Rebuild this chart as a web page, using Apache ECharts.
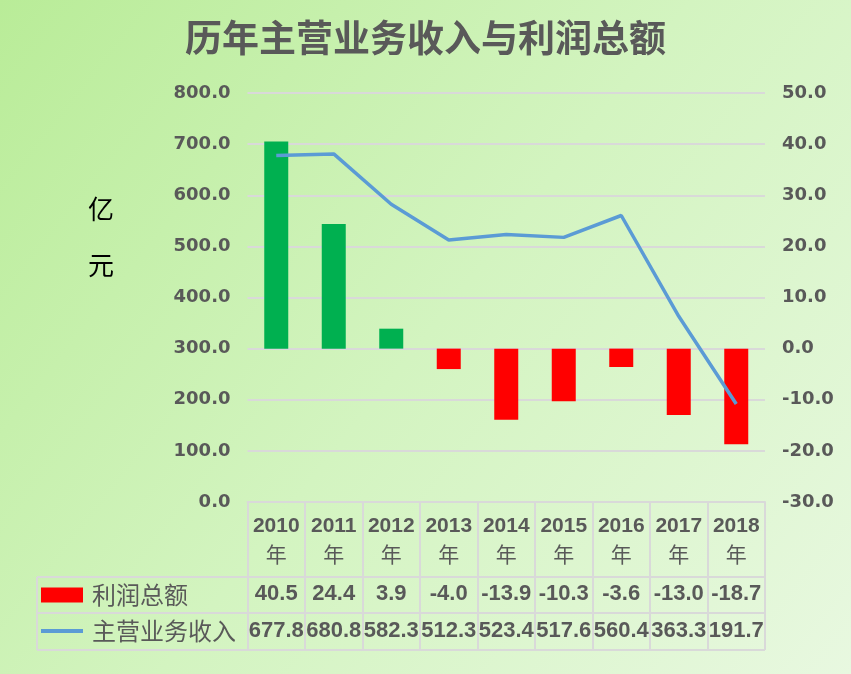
<!DOCTYPE html>
<html>
<head>
<meta charset="utf-8">
<script src="https://cdn.jsdelivr.net/npm/echarts@6/dist/echarts.min.js"></script>
<style>html,body{margin:0;padding:0;}#c{width:851px;height:674px;}</style>
</head>
<body>
<div id="c"></div>
<script>
const years = ['2010', '2011', '2012', '2013', '2014', '2015', '2016', '2017', '2018'];
const profit = [40.5, 24.4, 3.9, -4.0, -13.9, -10.3, -3.6, -13.0, -18.7];
const revenue = [677.8, 680.8, 582.3, 512.3, 523.4, 517.6, 560.4, 363.3, 191.7];
const profitName = '利润总额';
const revenueName = '主营业务收入';
const titleText = '历年主营业务收入与利润总额';
const unitChars = ['亿', '元'];

const grey = '#595959';
const lineGrey = '#d9d9d9';
const numFont = 'Liberation Sans';
const axisFont = 'DejaVu Sans';
const cjkFont = 'Noto Sans CJK SC';

const chart = echarts.init(document.getElementById('c'));
const labelBase = {interval: 0, color: grey, fontFamily: numFont, fontWeight: 'bold', fontSize: 22};

chart.setOption({
  backgroundColor: {type: 'linear', x: 0, y: 0, x2: 1, y2: 1,
    colorStops: [{offset: 0, color: '#b9ec98'}, {offset: 0.5, color: '#d3f4c0'}, {offset: 1, color: '#e8f8e0'}]},
  title: {text: titleText, left: 'center', top: 14,
    textStyle: {fontFamily: cjkFont, fontSize: 37, fontWeight: 'bold', color: grey}},
  legend: {orient: 'vertical', left: 41, top: 583, padding: 0, itemWidth: 42, itemHeight: 15, itemGap: 12,
    data: [
      {name: profitName, icon: 'rect'},
      {name: revenueName, icon: 'path://M0,0L40,0L40,4L0,4Z'}
    ],
    textStyle: {fontFamily: cjkFont, fontSize: 24, lineHeight: 24, color: grey, padding: [0, 0, 0, 4]}},
  graphic: [
    {type: 'line', shape: {x1: 37, y1: 577, x2: 765, y2: 577}, style: {stroke: lineGrey, lineWidth: 2}},
    {type: 'line', shape: {x1: 37, y1: 613, x2: 765, y2: 613}, style: {stroke: lineGrey, lineWidth: 2}},
    {type: 'line', shape: {x1: 37, y1: 650, x2: 765, y2: 650}, style: {stroke: lineGrey, lineWidth: 2}},
    {type: 'line', shape: {x1: 37, y1: 577, x2: 37, y2: 650}, style: {stroke: lineGrey, lineWidth: 2}},
    {type: 'text', x: 101, y: 209, style: {text: unitChars[0], font: '26px "Noto Sans CJK SC"', fill: '#000', align: 'center', verticalAlign: 'middle'}},
    {type: 'text', x: 101, y: 265, style: {text: unitChars[1], font: '26px "Noto Sans CJK SC"', fill: '#000', align: 'center', verticalAlign: 'middle'}}
  ],
  grid: {left: 247.5, right: 86, top: 93, bottom: 172},
  xAxis: [
    {type: 'category', data: years, position: 'bottom',
      axisLine: {show: true, lineStyle: {color: lineGrey, width: 2}},
      axisTick: {show: true, length: 148, interval: 0, alignWithLabel: false, lineStyle: {color: lineGrey, width: 2}},
      axisLabel: {interval: 0, margin: 10, lineHeight: 28,
        formatter: v => '{a|' + v + '}\n{b|年}',
        rich: {a: {color: grey, fontFamily: numFont, fontWeight: 'bold', fontSize: 21, lineHeight: 28},
               b: {color: grey, fontFamily: cjkFont, fontSize: 21, lineHeight: 28}}}},
    {type: 'category', data: profit.map(v => v.toFixed(1)), position: 'bottom', offset: 74,
      axisLine: {show: false}, axisTick: {show: false},
      axisLabel: Object.assign({margin: 7}, labelBase)},
    {type: 'category', data: revenue.map(v => v.toFixed(1)), position: 'bottom', offset: 110,
      axisLine: {show: false}, axisTick: {show: false},
      axisLabel: Object.assign({margin: 8}, labelBase)}
  ],
  yAxis: [
    {type: 'value', min: 0, max: 800, interval: 100, position: 'left',
      axisLine: {show: false}, axisTick: {show: false},
      splitLine: {show: true, lineStyle: {color: lineGrey, width: 2}},
      axisLabel: {margin: 17, color: grey, fontFamily: axisFont, fontWeight: 'bold', fontSize: 18,
        formatter: v => v.toFixed(1)}},
    {type: 'value', min: -30, max: 50, interval: 10, position: 'right',
      axisLine: {show: false}, axisTick: {show: false}, splitLine: {show: false},
      axisLabel: {margin: 17, color: grey, fontFamily: axisFont, fontWeight: 'bold', fontSize: 18,
        formatter: v => v.toFixed(1)}}
  ],
  series: [
    {name: profitName, type: 'bar', xAxisIndex: 0, yAxisIndex: 1, barWidth: 24,
      itemStyle: {color: '#FF0000'},
      data: profit.map(v => ({value: v, itemStyle: {color: v >= 0 ? '#00B050' : '#FF0000'}}))},
    {name: revenueName, type: 'line', xAxisIndex: 0, yAxisIndex: 0, symbol: 'none', z: 5,
      lineStyle: {color: '#5B9BD5', width: 3.5}, itemStyle: {color: '#5B9BD5'},
      data: revenue}
  ]
});
</script>
</body>
</html>
